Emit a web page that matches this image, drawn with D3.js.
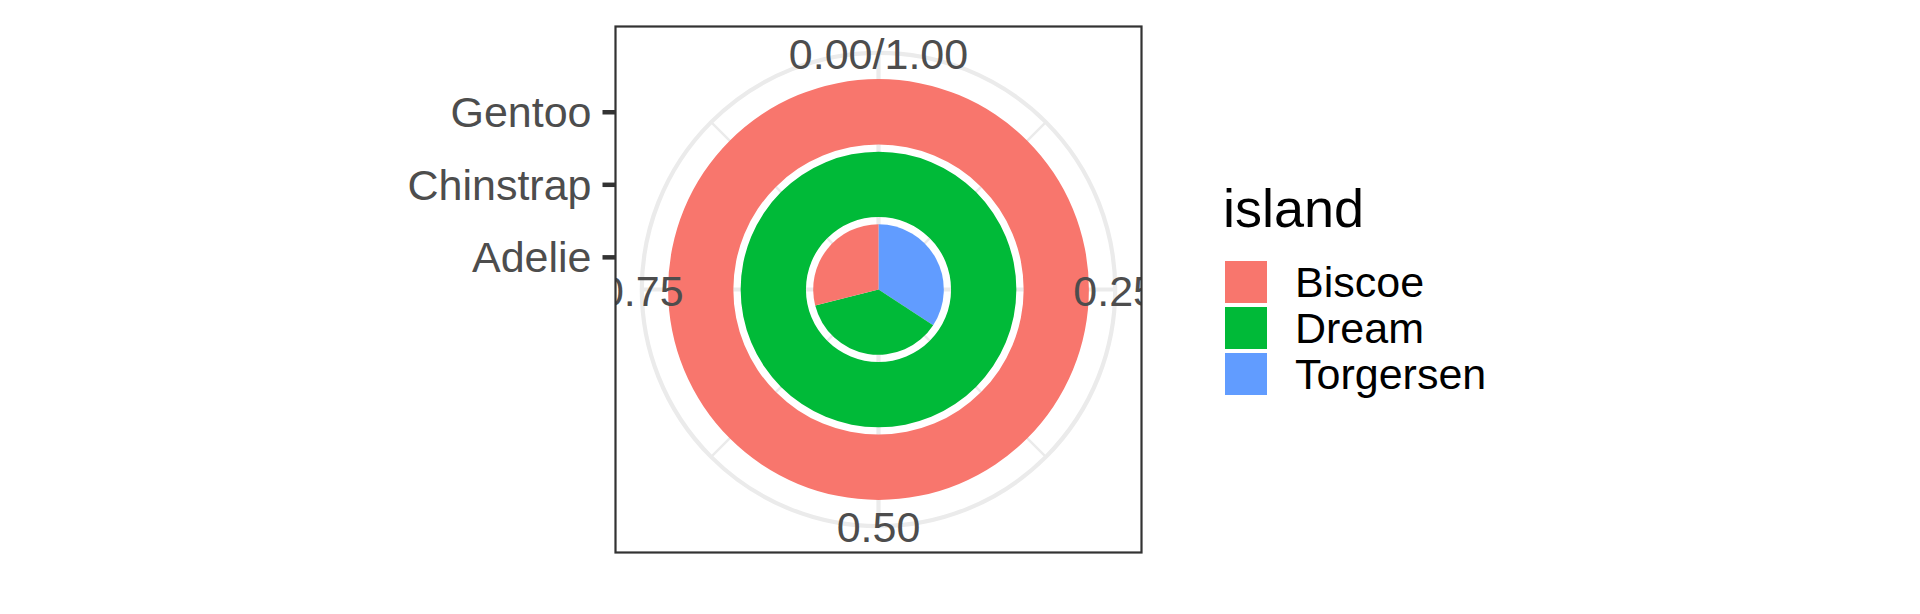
<!DOCTYPE html>
<html>
<head>
<meta charset="utf-8">
<script src="https://cdn.jsdelivr.net/npm/d3@7"></script>
<style>
  body { margin: 0; background: #fff; }
  text { font-family: "Liberation Sans", Arial, sans-serif; }
</style>
</head>
<body>
<div id="chart"></div>
<script>
// data: penguin counts by species and island (stacked, position = fill)
var species = ["Adelie", "Chinstrap", "Gentoo"];
var islands = ["Biscoe", "Dream", "Torgersen"];
var biscoe = [44, 0, 124];
var dream = [56, 68, 0];
var torgersen = [52, 0, 0];
var thetaBreaks = [0, 0.25, 0.5, 0.75];
var thetaLabels = ["0.00/1.00", "0.25", "0.50", "0.75"];
var thetaMinor = [0.125, 0.375, 0.625, 0.875];
var colors = ["#F8766D", "#00BA38", "#619CFF"];

var svgWidth = 1920, svgHeight = 614;

// panel
var panel = { x: 615.5, y: 26.5, size: 526 };
var cx = panel.x + panel.size / 2;
var cy = panel.y + panel.size / 2;

var svg = d3.select("#chart").append("svg")
  .attr("width", svgWidth)
  .attr("height", svgHeight);

svg.append("defs").append("clipPath").attr("id", "panelClip")
  .append("rect")
  .attr("x", panel.x).attr("y", panel.y)
  .attr("width", panel.size).attr("height", panel.size);

// scales
var rScale = d3.scaleLinear().domain([0.55, 3.45]).range([0, 0.4 * panel.size]);
var theta = d3.scaleLinear().domain([0, 1]).range([0, 2 * Math.PI]);
var color = d3.scaleOrdinal().domain(islands).range(colors);
var outerR = 0.45 * panel.size;

var g = svg.append("g").attr("clip-path", "url(#panelClip)");

// background grid
var grid = g.append("g").attr("transform", `translate(${cx},${cy})`);
species.forEach(function(s, i) {
  grid.append("circle").attr("r", rScale(i + 1))
    .attr("fill", "none").attr("stroke", "#EBEBEB").attr("stroke-width", 4.2);
});
grid.append("circle").attr("r", outerR)
  .attr("fill", "none").attr("stroke", "#EBEBEB").attr("stroke-width", 4.2);

grid.selectAll(".minor").data(thetaMinor).enter().append("line")
  .attr("x1", 0).attr("y1", 0)
  .attr("x2", d => outerR * Math.sin(theta(d)))
  .attr("y2", d => -outerR * Math.cos(theta(d)))
  .attr("stroke", "#EBEBEB").attr("stroke-width", 2.4);

grid.selectAll(".major").data(thetaBreaks).enter().append("line")
  .attr("x1", 0).attr("y1", 0)
  .attr("x2", d => outerR * Math.sin(theta(d)))
  .attr("y2", d => -outerR * Math.cos(theta(d)))
  .attr("stroke", "#EBEBEB").attr("stroke-width", 4.2);

// stacked bars (fill): Torgersen at bottom, Biscoe on top
var counts = { Biscoe: biscoe, Dream: dream, Torgersen: torgersen };
var segments = [];
species.forEach(function(s, i) {
  var total = biscoe[i] + dream[i] + torgersen[i];
  var start = 0;
  islands.slice().reverse().forEach(function(isl) {
    var v = counts[isl][i] / total;
    if (v > 0) {
      segments.push({ species: s, idx: i + 1, island: isl, start: start, end: start + v });
    }
    start += v;
  });
});

var arc = d3.arc()
  .innerRadius(d => rScale(d.idx - 0.45))
  .outerRadius(d => rScale(d.idx + 0.45))
  .startAngle(d => theta(d.start))
  .endAngle(d => theta(d.end));

g.append("g").attr("transform", `translate(${cx},${cy})`)
  .selectAll("path").data(segments).enter().append("path")
  .attr("d", arc)
  .attr("fill", d => color(d.island));

// theta labels on the outer circle
g.append("g").attr("transform", `translate(${cx},${cy})`)
  .selectAll("text").data(thetaBreaks).enter().append("text")
  .attr("x", d => outerR * Math.sin(theta(d)))
  .attr("y", d => -outerR * Math.cos(theta(d)) + 1)
  .attr("text-anchor", "middle")
  .attr("dominant-baseline", "central")
  .attr("font-size", 43)
  .attr("fill", "#4D4D4D")
  .text((d, i) => thetaLabels[i]);

// panel border
svg.append("rect")
  .attr("x", panel.x).attr("y", panel.y)
  .attr("width", panel.size).attr("height", panel.size)
  .attr("fill", "none").attr("stroke", "#333333").attr("stroke-width", 2.2);

// radial axis on the left
var yScale = d3.scalePoint().domain(species)
  .range([cy - rScale(1), cy - rScale(3)]);
var leftAxis = d3.axisLeft(yScale).tickSize(13).tickPadding(11);
var yAxis = svg.append("g")
  .attr("transform", `translate(${panel.x},0)`)
  .call(leftAxis);
yAxis.select(".domain").remove();
yAxis.selectAll("line").attr("stroke", "#333333").attr("stroke-width", 4.5);
yAxis.selectAll("text")
  .attr("font-size", 43)
  .attr("fill", "#4D4D4D")
  .attr("font-family", "Liberation Sans, Arial, sans-serif")
  .attr("dy", "0.35em");

// legend
var legend = svg.append("g").attr("transform", "translate(1225,0)");
legend.append("text")
  .attr("x", -2).attr("y", 227)
  .attr("font-size", 54)
  .attr("fill", "#000")
  .text("island");

var keys = legend.selectAll(".key").data(islands).enter().append("g")
  .attr("transform", (d, i) => `translate(0,${261 + i * 46})`);
keys.append("rect")
  .attr("width", 42).attr("height", 42)
  .attr("fill", d => color(d));
keys.append("text")
  .attr("x", 70).attr("y", 21)
  .attr("dominant-baseline", "central")
  .attr("font-size", 43)
  .attr("fill", "#000")
  .text(d => d);
</script>
</body>
</html>
